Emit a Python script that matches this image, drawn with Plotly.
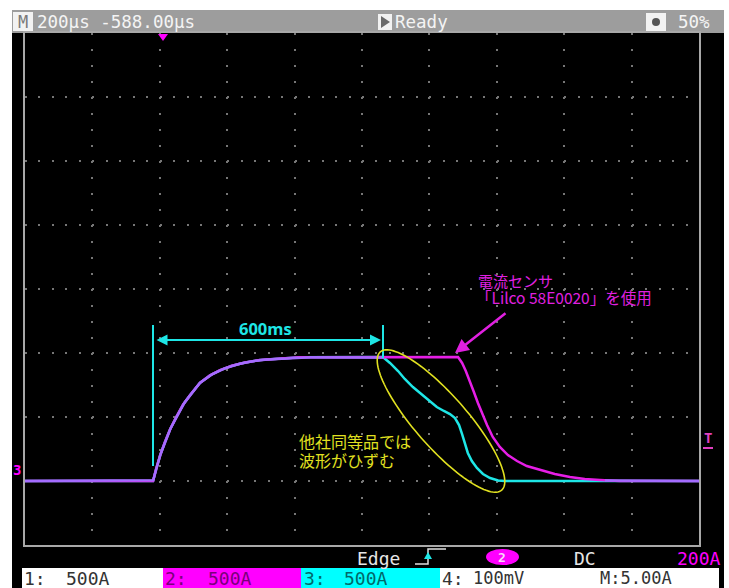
import numpy as np
import plotly.graph_objects as go

# ---------------- data (time in µs, 200 µs/div; current in A, 500 A/div) ----------------
ch2_time_us = [-400, -20, -11, 1, 15, 30, 48, 69, 90, 119, 149, 179, 214, 253, 297, 357, 416,
               885, 897, 908, 920, 932, 944, 956, 971, 988, 1009, 1033, 1060, 1089, 1128, 1172,
               1217, 1261, 1306, 1365, 1600]
ch2_current_a = [0, 0, 94, 200, 303, 400, 495, 596, 672, 766, 825, 866, 900, 926, 945, 958, 966,
                 969, 922, 859, 781, 695, 609, 531, 437, 344, 266, 203, 156, 117, 86, 55,
                 31, 16, 8, 0, 0]

ch3_time_us = [-400, -20, -11, 1, 15, 30, 48, 69, 90, 119, 149, 179, 214, 253, 297, 357, 416,
               662, 683, 707, 727, 751, 772, 796, 822, 843, 861, 876, 888, 897, 906, 914, 926,
               941, 959, 980, 1004, 1024, 1600]
ch3_current_a = [0, 0, 94, 200, 303, 400, 495, 596, 672, 766, 825, 866, 900, 926, 945, 958, 966,
                 969, 922, 859, 797, 734, 687, 633, 578, 547, 523, 492, 437, 367, 289, 219, 156,
                 102, 55, 23, 4, 0, 0]

X_RANGE = [-400, 1600]
Y_RANGE = [-500, 3500]

# ---------------- geometry helpers ----------------
W, H = 729, 588
L, R, T, B = 25, 699, 33, 545


def fx(px):
    return (px - L) / (R - L)


def fy(py):
    return (B - py) / (B - T)


def dx(px):
    return X_RANGE[0] + fx(px) * (X_RANGE[1] - X_RANGE[0])


def dy(py):
    return Y_RANGE[0] + fy(py) * (Y_RANGE[1] - Y_RANGE[0])


CYAN = "#1ee6e6"
MAGENTA = "#e61ee6"
VIOLET = "#a46cff"
YELLOW = "#e0e020"
MONO = "DejaVu Sans Mono, Liberation Mono, monospace"
JP = "Noto Sans CJK JP, sans-serif"

fig = go.Figure()

fig.add_trace(go.Scatter(x=ch3_time_us, y=ch3_current_a, mode="lines",
                         line=dict(color=CYAN, width=2.5), hoverinfo="skip"))
fig.add_trace(go.Scatter(x=ch2_time_us, y=ch2_current_a, mode="lines",
                         line=dict(color=MAGENTA, width=2.5), hoverinfo="skip"))

# overlap of both channels drawn in blended violet
tt = np.linspace(X_RANGE[0], X_RANGE[1], 4001)
c3 = np.interp(tt, ch3_time_us, ch3_current_a)
c2 = np.interp(tt, ch2_time_us, ch2_current_a)
ov = np.where(np.abs(c3 - c2) < 6, (c3 + c2) / 2, np.nan)
fig.add_trace(go.Scatter(x=tt, y=ov, mode="lines", connectgaps=False,
                         line=dict(color=VIOLET, width=2.5), hoverinfo="skip"))

shapes = []
ann = []

# background panels
shapes.append(dict(type="rect", xref="paper", yref="paper", x0=fx(12), x1=fx(724), y0=fy(568), y1=fy(33),
                   fillcolor="black", line=dict(width=0), layer="below"))
shapes.append(dict(type="rect", xref="paper", yref="paper", x0=fx(12), x1=fx(22), y0=fy(588), y1=fy(568),
                   fillcolor="black", line=dict(width=0), layer="below"))
shapes.append(dict(type="rect", xref="paper", yref="paper", x0=fx(719), x1=fx(724), y0=fy(588), y1=fy(568),
                   fillcolor="black", line=dict(width=0), layer="below"))
shapes.append(dict(type="rect", xref="paper", yref="paper", x0=fx(12), x1=fx(724), y0=fy(33), y1=fy(10),
                   fillcolor="#9d9d9d", line=dict(width=0), layer="below"))
shapes.append(dict(type="rect", xref="paper", yref="paper", x0=fx(163), x1=fx(301), y0=fy(588), y1=fy(568),
                   fillcolor="#ff00ff", line=dict(width=0), layer="below"))
shapes.append(dict(type="rect", xref="paper", yref="paper", x0=fx(301), x1=fx(440), y0=fy(588), y1=fy(568),
                   fillcolor="#00ffff", line=dict(width=0), layer="below"))

# top bar icons
shapes.append(dict(type="rect", xref="paper", yref="paper", x0=fx(13), x1=fx(33), y0=fy(31), y1=fy(12),
                   fillcolor="#f2f2f2", line=dict(width=0)))
shapes.append(dict(type="rect", xref="paper", yref="paper", x0=fx(378), x1=fx(392), y0=fy(30), y1=fy(14),
                   fillcolor="#f2f2f2", line=dict(width=0)))
shapes.append(dict(type="path", xref="paper", yref="paper",
                   path=f"M{fx(381)},{fy(16)} L{fx(390)},{fy(22)} L{fx(381)},{fy(28)} Z",
                   fillcolor="#6a6a6a", line=dict(width=0)))
shapes.append(dict(type="rect", xref="paper", yref="paper", x0=fx(646), x1=fx(666), y0=fy(31), y1=fy(13),
                   fillcolor="#f2f2f2", line=dict(width=0)))
shapes.append(dict(type="circle", xref="paper", yref="paper", x0=fx(652), x1=fx(660), y0=fy(26), y1=fy(18),
                   fillcolor="#555555", line=dict(width=0)))

# trigger position marker (top)
shapes.append(dict(type="path", xref="paper", yref="paper",
                   path=f"M{fx(158)},{fy(34)} L{fx(168)},{fy(34)} L{fx(163)},{fy(41)} Z",
                   fillcolor="#ff00ff", line=dict(width=0)))

# right trigger-level marker
shapes.append(dict(type="line", xref="paper", yref="paper", x0=fx(703), x1=fx(713), y0=fy(448), y1=fy(448),
                   line=dict(color="#e040c0", width=2)))

# 600ms marker lines
shapes.append(dict(type="line", xref="x", yref="y", x0=dx(153), x1=dx(153), y0=dy(325), y1=dy(466),
                   line=dict(color=CYAN, width=2)))
shapes.append(dict(type="line", xref="x", yref="y", x0=dx(383), x1=dx(383), y0=dy(325), y1=dy(358),
                   line=dict(color=CYAN, width=2)))

# yellow ellipse
cx, cy, a, b, th = 441, 421, 92, 26, np.deg2rad(48.7)
phi = np.linspace(0, 2 * np.pi, 121)
ex = cx + a * np.cos(phi) * np.cos(th) - b * np.sin(phi) * np.sin(th)
ey = cy + a * np.cos(phi) * np.sin(th) + b * np.sin(phi) * np.cos(th)
path = "M" + " L".join(f"{dx(px):.2f},{dy(py):.2f}" for px, py in zip(ex, ey)) + " Z"
shapes.append(dict(type="path", xref="x", yref="y", path=path, line=dict(color=YELLOW, width=1.6)))

# edge trigger icon (bottom row)
shapes.append(dict(type="path", xref="paper", yref="paper",
                   path=f"M{fx(415)},{fy(564)} L{fx(428)},{fy(564)} L{fx(428)},{fy(549)} L{fx(446)},{fy(549)}",
                   line=dict(color="#e0e0e0", width=1.5)))
shapes.append(dict(type="path", xref="paper", yref="paper",
                   path=f"M{fx(424)},{fy(559)} L{fx(432)},{fy(559)} L{fx(428)},{fy(552)} Z",
                   fillcolor=CYAN, line=dict(width=0)))
# channel pill
shapes.append(dict(type="circle", xref="paper", yref="paper", x0=fx(486), x1=fx(519), y0=fy(565), y1=fy(549),
                   fillcolor="#ff00ff", line=dict(width=0)))


def txt(s, px, py, color, size, anchor="left", family=MONO, bold=False):
    ann.append(dict(text=f"<b>{s}</b>" if bold else s, xref="paper", yref="paper",
                    x=fx(px), y=fy(py), xanchor=anchor, yanchor="middle", showarrow=False,
                    font=dict(family=family, size=size, color=color)))


# top bar text
txt("M", 23, 22, "#7a7a7a", 17, "center")
txt("200µs -588.00µs", 35, 22, "#f4f4f4", 17.5)
txt("Ready", 393, 22, "#f4f4f4", 17.5)
txt("50%", 676, 22, "#f4f4f4", 17.5)

# bottom black row
txt("Edge", 355, 558, "#e6e6e6", 18)
txt("2", 502, 557, "#f8d8f8", 13, "center", bold=True)
txt("DC", 572, 558, "#e6e6e6", 18)
txt("200A", 675, 558, "#ff00ff", 18)

# bottom white row
txt("1:", 22, 578, "#333333", 18)
txt("500A", 64, 578, "#333333", 18)
txt("2:", 163, 578, "#7a007a", 18)
txt("500A", 206, 578, "#7a007a", 18)
txt("3:", 302, 578, "#006a6a", 18)
txt("500A", 342, 578, "#006a6a", 18)
txt("4:", 440, 578, "#333333", 18)
txt("100mV", 471, 578, "#333333", 17)
txt("M:5.00A", 598, 578, "#333333", 17)

# side markers
txt("3", 17, 470, "#ff00ff", 14, "center", bold=True)
txt("T", 708, 438, "#e040c0", 14, "center", bold=True)

# in-plot annotations
txt("600ms", 265, 328, CYAN, 16.5, "center", family="Open Sans, Noto Sans, sans-serif", bold=True)
txt("電流センサ", 476, 280, "#e020e0", 15, family=JP)
txt("「Lilco 58E0020」を使用", 474, 297, "#e020e0", 15.5, family=JP)
txt("他社同等品では", 297, 441, YELLOW, 16, family=JP)
txt("波形がひずむ", 297, 460, YELLOW, 16, family=JP)

# arrows
ann.append(dict(text="", xref="x", yref="y", axref="x", ayref="y",
                x=dx(381), y=dy(340), ax=dx(155), ay=dy(340), showarrow=True,
                arrowside="end+start", arrowhead=2, arrowsize=1.1, arrowwidth=2, arrowcolor=CYAN))
ann.append(dict(text="", xref="x", yref="y", axref="x", ayref="y",
                x=dx(455), y=dy(353), ax=dx(507), ay=dy(312), showarrow=True,
                arrowhead=2, arrowsize=1.1, arrowwidth=2.5, arrowcolor="#e020e0"))

axis_common = dict(showticklabels=False, zeroline=False, showline=True, linecolor="#a8a8a8",
                   linewidth=2, mirror=True, ticks="", gridcolor="#767676", gridwidth=2,
                   fixedrange=True)

fig.update_layout(
    width=W, height=H, autosize=False,
    margin=dict(l=L, r=W - R, t=T, b=H - B, pad=0),
    paper_bgcolor="white", plot_bgcolor="black", showlegend=False,
    xaxis=dict(range=X_RANGE, tick0=X_RANGE[0], dtick=200, griddash="2px,14px", **axis_common),
    yaxis=dict(range=Y_RANGE, tick0=Y_RANGE[0], dtick=500, griddash="2px,11.48px", **axis_common),
    shapes=shapes, annotations=ann,
)

fig.write_html("out.html", config={"displayModeBar": False},
               post_script="document.body.style.margin='0';document.body.style.overflow='hidden';")
